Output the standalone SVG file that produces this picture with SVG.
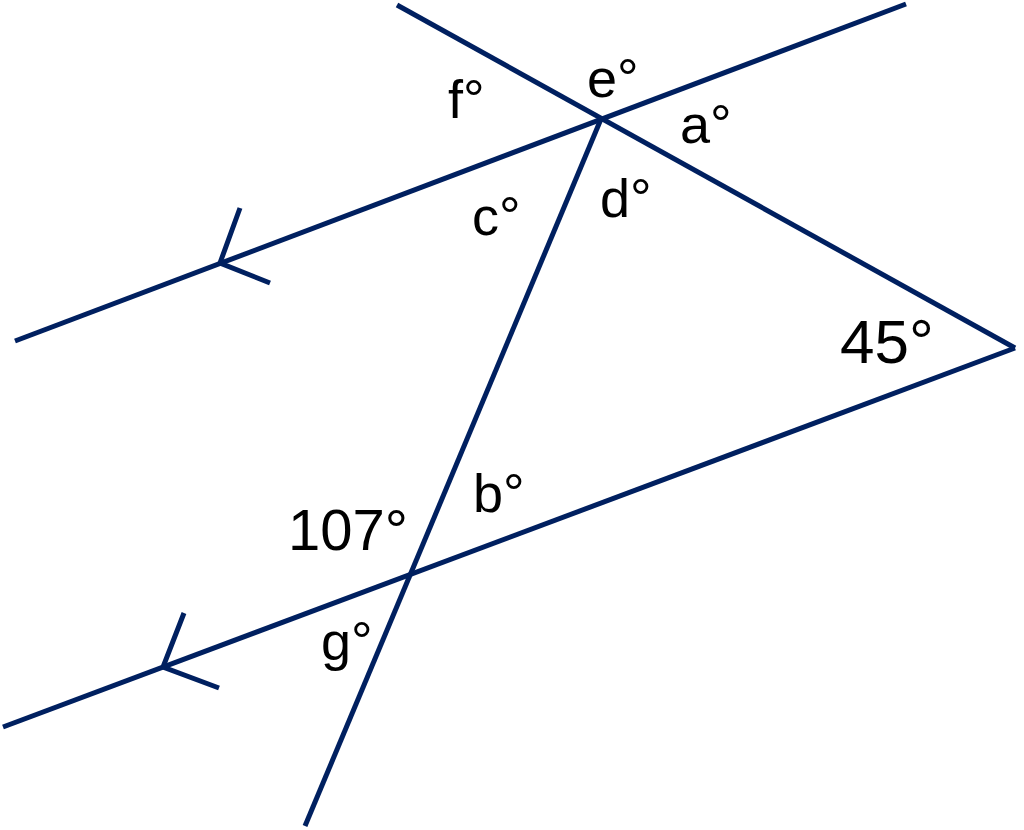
<svg xmlns="http://www.w3.org/2000/svg" width="1024" height="830" viewBox="0 0 1024 830">
<style>
.ln{stroke:#002060;stroke-width:5;fill:none;stroke-linecap:butt;stroke-linejoin:miter}
.t{font-family:"Liberation Sans","Noto Sans",sans-serif;fill:#000;font-size:54px}
.n{font-size:58px}
</style>
<rect width="1024" height="830" fill="#fff"/>
<g id="lines">
<line class="ln" x1="15" y1="341" x2="906" y2="4"/>
<line class="ln" x1="3" y1="727" x2="1015" y2="348"/>
<line class="ln" x1="397" y1="5" x2="1015" y2="348"/>
<line class="ln" x1="601" y1="119" x2="305" y2="826"/>
<polyline class="ln" points="240,208 220,263 270,283"/>
<polyline class="ln" points="184,613 163,667 219,688"/>
</g>
<g id="labels">
<text class="t" x="448" y="118">f°</text>
<text class="t" x="587" y="97">e°</text>
<text class="t" x="680" y="143">a°</text>
<text class="t" x="600" y="217">d°</text>
<text class="t" x="472" y="235">c°</text>
<text class="t" x="473" y="512">b°</text>
<text class="t n" x="288" y="550">107°</text>
<text class="t" x="321" y="660">g°</text>
<text class="t" x="840" y="363" style="font-size:62px">45°</text>
</g>
</svg>
